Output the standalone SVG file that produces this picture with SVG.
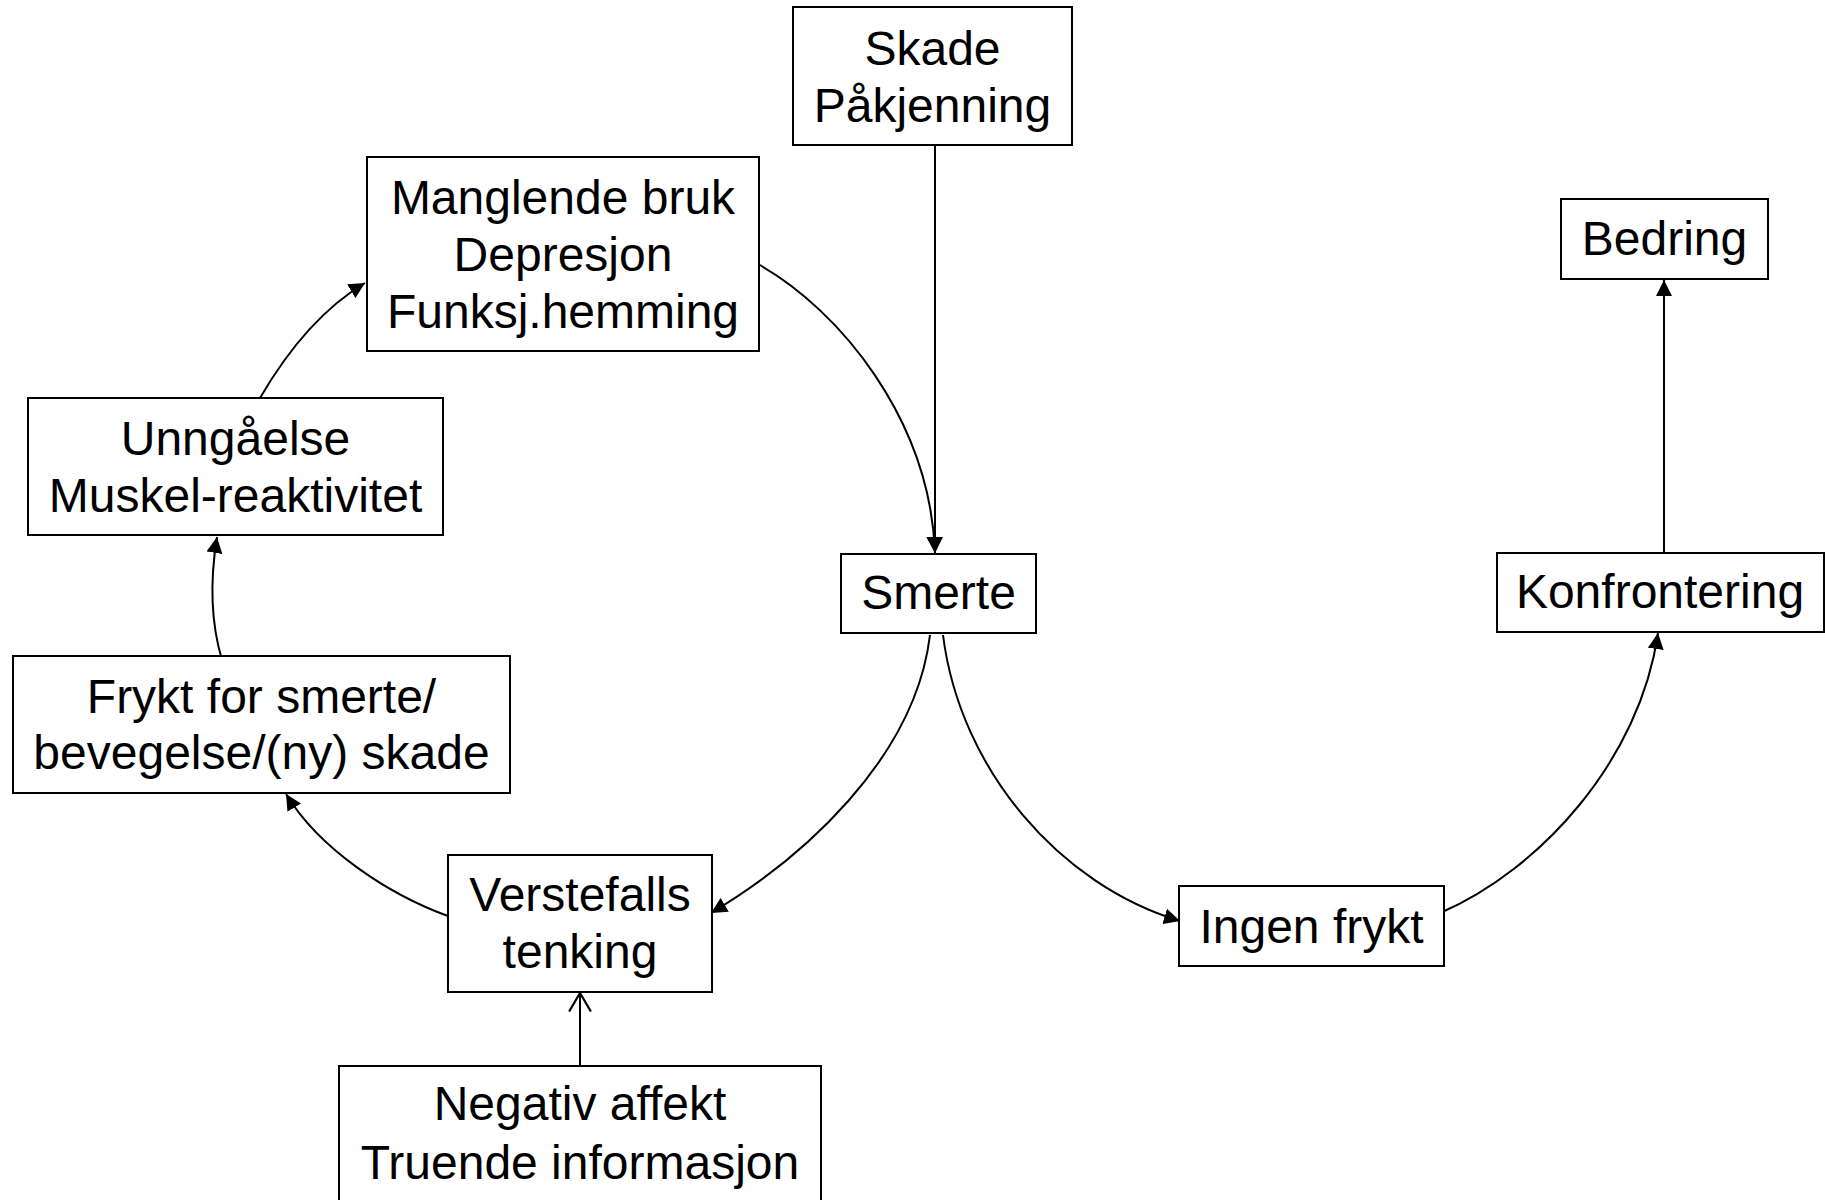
<svg xmlns="http://www.w3.org/2000/svg" width="1825" height="1200" viewBox="0 0 1825 1200">
<style>
.box{fill:#fff;stroke:#000;stroke-width:2}
.t{font-family:"Liberation Sans",Arial,sans-serif;font-size:48px;fill:#000;text-anchor:middle}
.c{fill:none;stroke:#000;stroke-width:2}
</style>
<defs>
<marker id="ah" markerUnits="userSpaceOnUse" markerWidth="16" markerHeight="16" viewBox="0 0 15 15" refX="15" refY="7.5" orient="auto">
<path d="M0,0 L15,7.5 L0,15 z" fill="#000"/>
</marker>
<marker id="oh" markerUnits="userSpaceOnUse" markerWidth="20" markerHeight="24" viewBox="0 0 18 22" refX="17" refY="11" orient="auto">
<path d="M0,1 L17,11 L0,21" fill="none" stroke="#000" stroke-width="2"/>
</marker>
</defs>
<rect width="1825" height="1200" fill="#fff"/>
<g id="connectors">
<path class="c" d="M935,145 L935,553" marker-end="url(#ah)"/>
<path class="c" d="M758,264 C840,310 930,420 935,553" marker-end="url(#ah)"/>
<path class="c" d="M930,635 C915,760 800,860 711,913" marker-end="url(#ah)"/>
<path class="c" d="M943,635 C960,770 1060,885 1180,921" marker-end="url(#ah)"/>
<path class="c" d="M1440,913 C1540,870 1640,760 1658,633" marker-end="url(#ah)"/>
<path class="c" d="M1664,553 L1664,280" marker-end="url(#ah)"/>
<path class="c" d="M448,916 C390,895 320,850 286,794" marker-end="url(#ah)"/>
<path class="c" d="M222,660 C210,620 210,580 217,537" marker-end="url(#ah)"/>
<path class="c" d="M260,398 C285,355 320,310 365,283" marker-end="url(#ah)"/>
<path class="c" d="M580,1066 L580,993" marker-end="url(#oh)"/>
</g>
<g id="skade">
<rect class="box" x="793" y="7" width="279" height="138"/>
<text class="t" x="932.5" y="65">Skade</text>
<text class="t" x="932.5" y="122">Påkjenning</text>
</g>
<g id="manglende">
<rect class="box" x="367" y="157" width="392" height="194"/>
<text class="t" x="563" y="214">Manglende bruk</text>
<text class="t" x="563" y="271">Depresjon</text>
<text class="t" x="563" y="328">Funksj.hemming</text>
</g>
<g id="bedring">
<rect class="box" x="1561" y="199" width="207" height="80"/>
<text class="t" x="1664.5" y="255">Bedring</text>
</g>
<g id="unngaelse">
<rect class="box" x="28" y="398" width="415" height="137"/>
<text class="t" x="235.5" y="455">Unngåelse</text>
<text class="t" x="235.5" y="512">Muskel-reaktivitet</text>
</g>
<g id="smerte">
<rect class="box" x="841" y="554" width="195" height="79"/>
<text class="t" x="938.5" y="609">Smerte</text>
</g>
<g id="konfrontering">
<rect class="box" x="1497" y="553" width="327" height="79"/>
<text class="t" x="1660" y="608">Konfrontering</text>
</g>
<g id="frykt">
<rect class="box" x="13" y="656" width="497" height="137"/>
<text class="t" x="261.5" y="713">Frykt for smerte/</text>
<text class="t" x="261.5" y="769">bevegelse/(ny) skade</text>
</g>
<g id="verstefalls">
<rect class="box" x="448" y="855" width="264" height="137"/>
<text class="t" x="580" y="911">Verstefalls</text>
<text class="t" x="580" y="968">tenking</text>
</g>
<g id="ingen">
<rect class="box" x="1179" y="886" width="265" height="80"/>
<text class="t" x="1311.5" y="943">Ingen frykt</text>
</g>
<g id="negativ">
<rect class="box" x="339" y="1066" width="482" height="150"/>
<text class="t" x="580" y="1120">Negativ affekt</text>
<text class="t" x="580" y="1179">Truende informasjon</text>
</g>
</svg>
